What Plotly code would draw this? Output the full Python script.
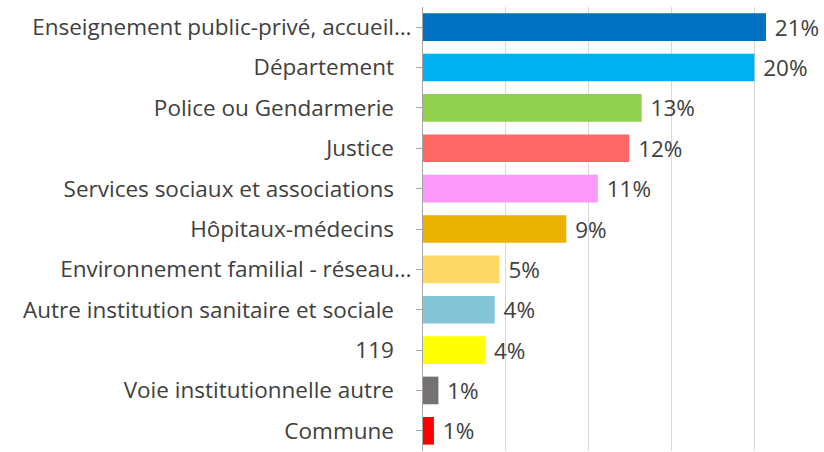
import plotly.graph_objects as go

categories = [
    "Enseignement public-privé, accueil…",
    "Département",
    "Police ou Gendarmerie",
    "Justice",
    "Services sociaux et associations",
    "Hôpitaux-médecins",
    "Environnement familial - réseau…",
    "Autre institution sanitaire et sociale",
    "119",
    "Voie institutionnelle autre",
    "Commune",
]
values = [20.7, 20.0, 13.2, 12.45, 10.55, 8.65, 4.62, 4.33, 3.75, 0.93, 0.66]
colors = ["#0070C0", "#00B0F0", "#92D050", "#FF6666", "#FA99F8", "#E9B200",
          "#FFD966", "#83C5D7", "#FFFF00", "#767171", "#FF0000"]
value_labels = ["21%", "20%", "13%", "12%", "11%", "9%", "5%", "4%", "4%", "1%", "1%"]

pad = "\u00a0\u00a0\u00a0"
tick_text = [c if c.endswith("…") else c + pad for c in categories]

FONT = "'Open Sans', sans-serif"
TXT = "#404040"
FS = 22.5

fig = go.Figure(go.Bar(
    y=categories,
    x=values,
    orientation="h",
    marker=dict(color=colors, line=dict(width=0)),
    text=["\u00a0" + t for t in value_labels],
    textposition="outside",
    constraintext="none",
    textfont=dict(family=FONT, size=FS, color=TXT),
    cliponaxis=False,
))

fig.update_layout(
    width=824, height=452,
    margin=dict(l=423, r=0, t=7, b=1),
    paper_bgcolor="white", plot_bgcolor="white",
    bargap=0.315,
    showlegend=False,
    font=dict(family=FONT, size=FS, color=TXT),
)
fig.update_xaxes(range=[0, 24.2], dtick=5, showgrid=True, gridcolor="#D9D9D9",
                 gridwidth=1, showticklabels=False, zeroline=False, showline=False)
fig.update_yaxes(categoryorder="array", categoryarray=categories[::-1],
                 tickmode="array", tickvals=categories, ticktext=tick_text,
                 autorange=True, showline=True, linecolor="#A6A6A6", linewidth=1,
                 ticks="outside", ticklen=6, tickcolor="#A6A6A6",
                 tickfont=dict(family=FONT, size=FS, color=TXT), ticklabelstandoff=0)

fig.write_html("out.html", config={"displayModeBar": False},
               post_script="document.body.style.margin='0';")
